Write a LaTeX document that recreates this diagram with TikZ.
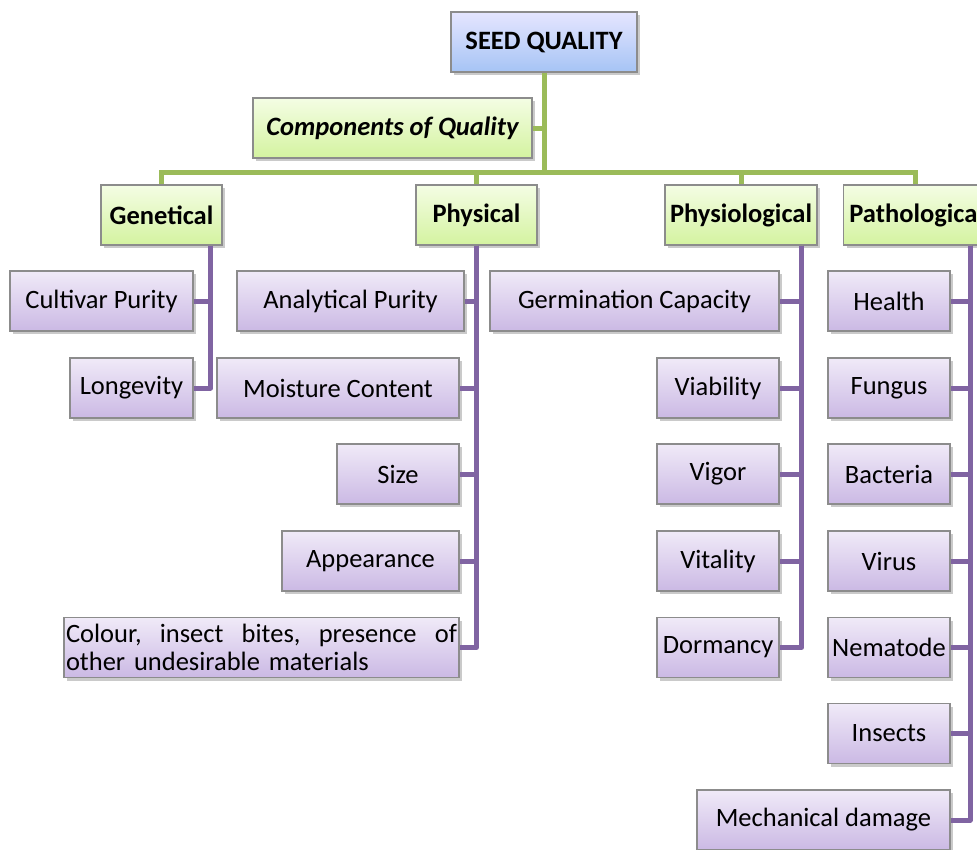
\documentclass[tikz,border=0pt]{standalone}
\usepackage{fontspec}
\setmainfont{Carlito}
\usetikzlibrary{shadows}
\definecolor{gline}{HTML}{9BBB59}
\definecolor{pline}{HTML}{8064A2}
\definecolor{bordergray}{HTML}{8C8C8C}
\tikzset{
  base/.style={draw=bordergray, line width=1.2pt, inner sep=4pt, minimum height=60,
    font=\fontsize{26.5}{28}\selectfont, drop shadow={shadow xshift=3pt, shadow yshift=-3pt, opacity=0.35, fill=black!60}},
  bluebox/.style={base, top color=blue!10!white, bottom color={rgb,255:red,166;green,196;blue,245}, font=\fontsize{26.5}{28}\selectfont\bfseries},
  greenbox/.style={base, top color={rgb,255:red,244;green,253;blue,228}, bottom color={rgb,255:red,212;green,243;blue,160}, font=\fontsize{26.5}{28}\selectfont\bfseries},
  purplebox/.style={base, top color={rgb,255:red,240;green,234;blue,248}, bottom color={rgb,255:red,203;green,185;blue,228}},
  greenline/.style={gline, line width=5pt},
  purpleline/.style={pline, line width=5pt, line join=round},
}
\begin{document}
\begin{tikzpicture}[x=1pt,y=-1pt]
\useasboundingbox (0,0) rectangle (977,849);
\clip (0,0) rectangle (977,849);
% top level
\node[bluebox, minimum width=186] (sq) at (544,42) {SEED QUALITY};
\node[greenbox, minimum width=279, font=\fontsize{26.5}{28}\selectfont\bfseries\itshape] (comp) at (392.5,128) {Components of Quality};
\coordinate (hub) at (544,172);
% categories
\node[greenbox, minimum width=121] (gen) at (161.5,215) {Genetical};
\node[greenbox, minimum width=121] (phys) at (476.5,215) {Physical};
\node[greenbox, minimum width=152] (physio) at (741,215) {Physiological};
\node[greenbox, minimum width=146, anchor=west, inner sep=5pt] (path) at (843,215) {Pathological};
% green connectors
\draw[greenline] (sq.south) -- (hub);
\draw[greenline] (comp.east) -- (comp.east -| hub);
\draw[greenline] (gen.north) |- (hub);
\draw[greenline] (phys.north) |- (hub);
\draw[greenline] (physio.north) |- (hub);
\draw[greenline] ([xshift=-1pt]path.north) |- (hub);
% Genetical items
\node[purplebox, minimum width=183] (cult) at (101.5,301) {Cultivar Purity};
\node[purplebox, minimum width=123] (long) at (131.5,388) {Longevity};
% Physical items
\node[purplebox, minimum width=227] (anal) at (350.5,301) {Analytical Purity};
\node[purplebox, minimum width=242] (moist) at (338,388) {Moisture Content};
\node[purplebox, minimum width=122] (size) at (398,474) {Size};
\node[purplebox, minimum width=177] (appr) at (370.5,561) {Appearance};
\node[purplebox, minimum width=395, text width=391pt, align=left, inner sep=2pt] (col) at (261.5,647.5) {\makebox[391pt]{Colour,\hfill insect\hfill bites,\hfill presence\hfill of}\\other undesirable materials};
% Physiological items
\node[purplebox, minimum width=289] (germ) at (634.5,301) {Germination Capacity};
\node[purplebox, minimum width=122] (via) at (718,388) {Viability};
\node[purplebox, minimum width=122] (vig) at (718,474) {Vigor};
\node[purplebox, minimum width=122] (vit) at (718,561) {Vitality};
\node[purplebox, minimum width=122] (dorm) at (718,647.5) {Dormancy};
% Pathological items
\node[purplebox, minimum width=122] (hea) at (889,301) {Health};
\node[purplebox, minimum width=122] (fun) at (889,388) {Fungus};
\node[purplebox, minimum width=122] (bac) at (889,474) {Bacteria};
\node[purplebox, minimum width=122] (vir) at (889,561) {Virus};
\node[purplebox, minimum width=122] (nem) at (889,647.5) {Nematode};
\node[purplebox, minimum width=122] (ins) at (889,733.5) {Insects};
\node[purplebox, minimum width=253] (mech) at (823.5,820) {Mechanical damage};
% purple connectors
\draw[purpleline] ([xshift=-12pt]gen.south east) |- (cult.east);
\draw[purpleline] ([xshift=-12pt]gen.south east) |- (long.east);
\foreach \n in {anal,moist,size,appr,col}
  \draw[purpleline] (phys.south) |- (\n.east);
\foreach \n in {germ,via,vig,vit,dorm}
  \draw[purpleline] ([xshift=-16pt]physio.south east) |- (\n.east);
\foreach \n in {hea,fun,bac,vir,nem,ins,mech}
  \draw[purpleline] ([xshift=127pt]path.south west) |- (\n.east);
\end{tikzpicture}
\end{document}
